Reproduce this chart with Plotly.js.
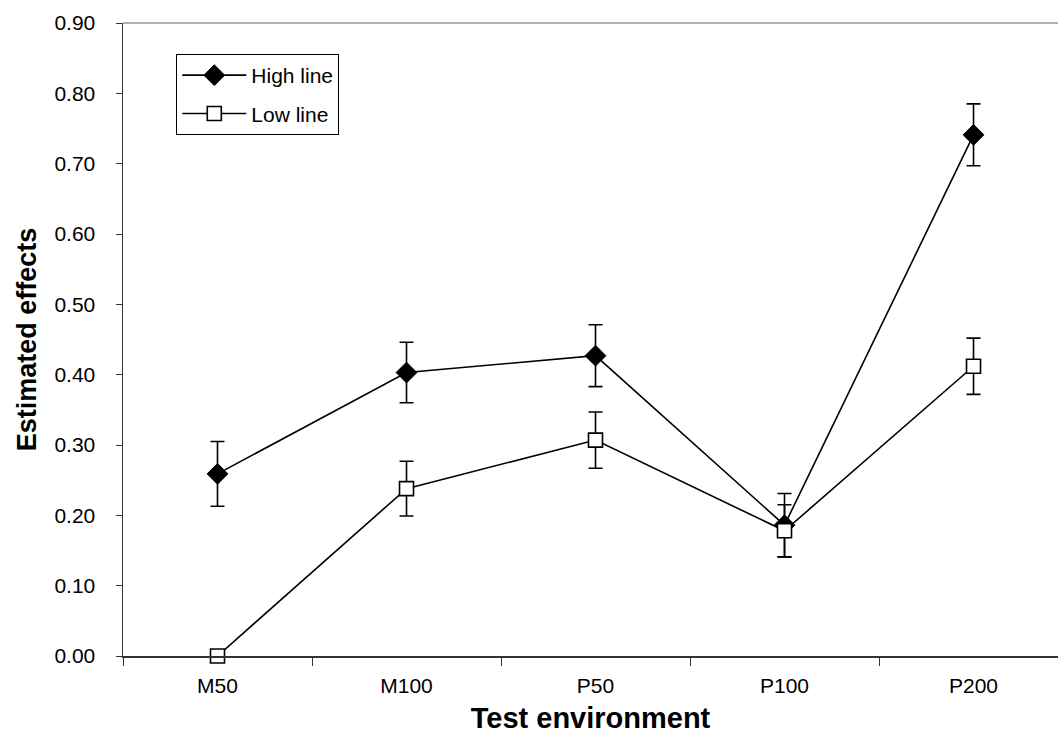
<!DOCTYPE html>
<html>
<head>
<meta charset="utf-8">
<script src="https://cdn.plot.ly/plotly-3.0.1.min.js"></script>
<style>
  html, body { margin: 0; padding: 0; background: #fff; overflow: hidden; }
  #chart { width: 1058px; height: 753px; }
</style>
</head>
<body>
<div id="chart"></div>
<script>
// Test environments on the category axis
const environments = ["M50", "M100", "P50", "P100", "P200"];

// Estimated effects and their error margins for each line
const highLine = [0.259, 0.403, 0.427, 0.186, 0.741];
const highErr  = [0.046, 0.043, 0.044, 0.045, 0.044];
const lowLine  = [0.000, 0.238, 0.307, 0.178, 0.412];
const lowErr   = [0.000, 0.039, 0.040, 0.037, 0.040];

const yTicks = [0, 0.1, 0.2, 0.3, 0.4, 0.5, 0.6, 0.7, 0.8, 0.9];

const errStyle = { type: "data", visible: true, color: "#000", thickness: 1.6, width: 7 };

const traces = [
  {
    name: "High line",
    legendgroup: "high",
    x: environments,
    y: highLine,
    type: "scatter",
    mode: "lines+markers",
    line: { color: "#000", width: 1.6 },
    marker: { symbol: "diamond", size: 16, color: "#000", line: { color: "#000", width: 1 } },
    error_y: Object.assign({ array: highErr }, errStyle),
    cliponaxis: false
  },
  {
    name: "Low line",
    legendgroup: "low",
    x: environments,
    y: lowLine,
    type: "scatter",
    mode: "lines+markers",
    line: { color: "#000", width: 1.6 },
    marker: { symbol: "square", size: 14, color: "#fff", line: { color: "#000", width: 1.6 } },
    error_y: Object.assign({ array: lowErr }, errStyle),
    cliponaxis: false
  }
];

const layout = {
  width: 1058,
  height: 753,
  margin: { l: 123, r: 0, t: 23, b: 97 },
  paper_bgcolor: "#fff",
  plot_bgcolor: "#fff",
  font: { family: "Liberation Sans, Arial, sans-serif", color: "#000", size: 21 },
  showlegend: true,
  legend: {
    x: 0.057, y: 0.951, xanchor: "left", yanchor: "top",
    bordercolor: "#000", borderwidth: 1, bgcolor: "#fff",
    font: { size: 21 },
    itemwidth: 64,
    tracegroupgap: 8
  },
  xaxis: {
    type: "category",
    categoryorder: "array",
    categoryarray: environments,
    range: [-0.5, 4.447],
    showgrid: false,
    zeroline: false,
    showline: true,
    linecolor: "#333",
    linewidth: 1.5,
    ticks: "outside",
    tickson: "boundaries",
    ticklen: 8,
    tickwidth: 1,
    tickcolor: "#333",
    ticklabelstandoff: 10,
    tickfont: { size: 21 },
    title: { text: "Test environment", font: { size: 29, weight: "bold" }, standoff: 12 }
  },
  yaxis: {
    range: [0, 0.9],
    tickvals: yTicks,
    tickformat: ".2f",
    showgrid: false,
    zeroline: false,
    showline: true,
    linecolor: "#333",
    linewidth: 1.5,
    ticks: "outside",
    ticklen: 6,
    tickwidth: 1,
    tickcolor: "#333",
    ticklabelstandoff: 16,
    tickfont: { size: 21 },
    title: { text: "Estimated effects", font: { size: 27, weight: "bold" }, standoff: 10 }
  },
  shapes: [
    // light frame along the top of the plot area
    { type: "line", xref: "paper", yref: "paper", x0: 0, x1: 1, y0: 1, y1: 1,
      line: { color: "#999", width: 1.5 } }
  ]
};

Plotly.newPlot("chart", traces, layout, { displayModeBar: false, staticPlot: true });
</script>
</body>
</html>
